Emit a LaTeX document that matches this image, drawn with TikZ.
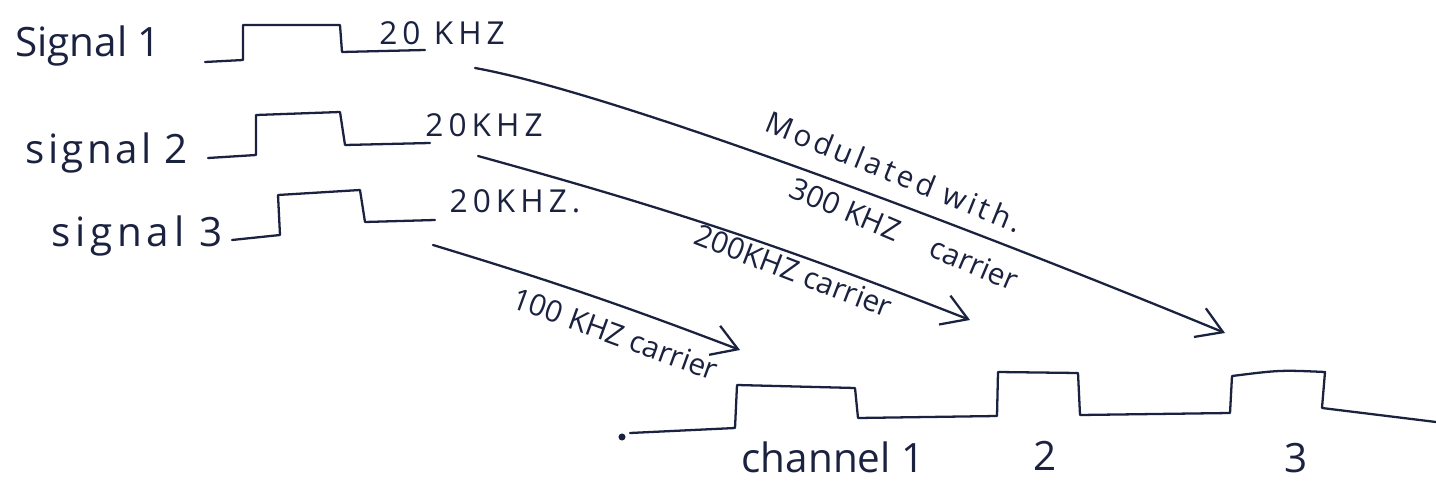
\documentclass[tikz,border=0pt]{standalone}
\usepackage{fontspec}
\setmainfont{Open Sans}
\usetikzlibrary{arrows.meta}
\definecolor{ink}{HTML}{1B2240}
\begin{document}
\begin{tikzpicture}[x=0.02cm,y=-0.02cm,
  inkline/.style={draw=ink, line width=1.3pt, line cap=round, line join=round},
  carrier/.style={inkline, -{Straight Barb[length=0.5cm,width=0.62cm,line width=1.3pt]}},
  siglabel/.style={text=ink, font=\fontsize{23}{26}\selectfont, inner sep=0pt},
  freqlabel/.style={text=ink, font=\fontsize{18}{21}\selectfont\addfontfeature{LetterSpace=16}, inner sep=0pt},
  note/.style={text=ink, font=\fontsize{17}{20}\selectfont, inner sep=0pt, anchor=base},
]
\useasboundingbox (0,0) rectangle (1436,483);

% input signals
\node[siglabel] (s1) at (88,46) {Signal 1};
\node[siglabel, font=\fontsize{23}{26}\selectfont\addfontfeature{LetterSpace=8}] (s2) at (107,153) {signal 2};
\node[siglabel, font=\fontsize{23}{26}\selectfont\addfontfeature{LetterSpace=12}] (s3) at (137,236) {signal 3};

\draw[inkline] (205,62) -- (243,60) -- (243,25) -- (340,25) -- (342,52) -- (425,50);
\draw[inkline] (208,158) -- (256,155) -- (256,115) -- (340,112) -- (345,145) -- (430,143);
\draw[inkline] (232,240) -- (280,235) -- (278,195) -- (360,190) -- (365,222) -- (435,220);

\node[freqlabel] (f1) at (442,33) {20 KHZ};
\node[freqlabel] (f2) at (484,125) {20KHZ};
\node[freqlabel] (f3) at (515,201) {20KHZ.};

% carrier arrows
\coordinate (a1s) at (475,68);
\coordinate (a1e) at (1225,333);
\coordinate (a2s) at (478,156);
\coordinate (a2e) at (970,320);
\coordinate (a3s) at (433,245);
\coordinate (a3e) at (740,350);

\draw[carrier] (a1s) .. controls +(145,26) and +(-225,-93) .. (a1e);
\draw[carrier] (a2s) to[bend left=3] (a2e);
\draw[carrier] (a3s) to[bend left=2] (a3e);

\node[note, rotate=-22, font=\fontsize{17}{20}\selectfont\addfontfeature{LetterSpace=12}] (m1) at (890,182) {Modulated with.};
\node[note, rotate=-23] (m2) at (900,244) {300 KHZ\hspace{1.2em}carrier};
\node[note, rotate=-21] (m3) at (790,281) {200KHZ carrier};
\node[note, rotate=-20] (m4) at (612,344) {100 KHZ carrier};

% multiplexed channel
\fill[ink] (622,437) circle (2pt);
\draw[inkline] (630,433) -- (735,428) -- (737,385) -- (855,388) -- (858,418)
  -- (997,416) -- (998,372) -- (1078,373) -- (1080,415) -- (1230,413)
  -- (1232,376) .. controls (1280,370) .. (1325,372) -- (1322,408) -- (1436,422);

\node[siglabel] (c1) at (833,457) {channel 1};
\node[siglabel] (c2) at (1045,456) {2};
\node[siglabel] (c3) at (1296,458) {3};
\end{tikzpicture}
\end{document}
